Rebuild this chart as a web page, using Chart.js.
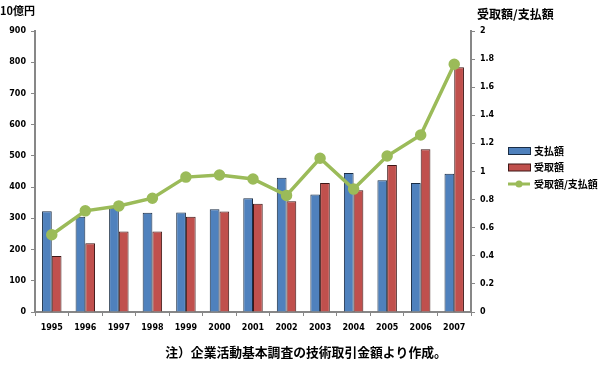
<!DOCTYPE html>
<html><head><meta charset="utf-8">
<script src="https://cdn.jsdelivr.net/npm/chart.js@4/dist/chart.umd.min.js"></script>
<style>html,body{margin:0;padding:0;background:#fff;}#wrap{width:600px;height:365px;}</style>
</head><body><div id="wrap"><canvas id="c" width="600" height="365"></canvas></div>
<script>
const years = ['1995','1996','1997','1998','1999','2000','2001','2002','2003','2004','2005','2006','2007'];
const payments = [323,305,334,318,319,329,364,430,376,445,422,413,443];
const receipts = [179,220,258,258,305,322,347,355,413,390,471,521,784];
const ratio = [0.55,0.72,0.755,0.81,0.96,0.975,0.947,0.83,1.094,0.875,1.11,1.26,1.763];
const leftTicks = [0,100,200,300,400,500,600,700,800,900];
const rightTicks = [0,0.2,0.4,0.6,0.8,1,1.2,1.4,1.6,1.8,2];
const labelPay = '支払額', labelRec = '受取額', labelRatio = '受取額/支払額';
const leftTitle = '10億円', rightTitle = '受取額/支払額';
const note = '注）企業活動基本調査の技術取引金額より作成。';

const CJK = '"Noto Sans CJK JP", "DejaVu Sans", sans-serif';
const NUM = '"DejaVu Sans", sans-serif';
const AXIS = '#878787';
const GREEN = '#9BBB59';

const extras = {
  id: 'extras',
  afterDraw(chart) {
    const ctx = chart.ctx;
    ctx.save();
    ctx.fillStyle = '#000';
    ctx.textBaseline = 'middle';
    ctx.font = 'bold 11px ' + CJK;
    ctx.textAlign = 'left';
    ctx.fillText(leftTitle, 0, 11);
    ctx.font = 'bold 12px ' + CJK;
    ctx.fillText(rightTitle, 477, 14);
    ctx.font = 'bold 12.8px ' + CJK;
    ctx.textAlign = 'center';
    ctx.fillText(note, 306, 352);
    // legend built from the datasets
    ctx.textAlign = 'left';
    ctx.font = 'bold 10px ' + CJK;
    const ys = [151, 167.5, 184];
    chart.data.datasets.forEach((ds, i) => {
      const y = ys[i];
      const x0 = 508, x1 = 530;
      if (ds.type === 'line') {
        ctx.strokeStyle = ds.borderColor; ctx.lineWidth = 3;
        ctx.beginPath(); ctx.moveTo(x0, y); ctx.lineTo(x1, y); ctx.stroke();
        ctx.fillStyle = ds.borderColor;
        ctx.beginPath(); ctx.arc((x0 + x1) / 2, y, 3.5, 0, Math.PI * 2); ctx.fill();
      } else {
        ctx.fillStyle = ds.backgroundColor;
        ctx.fillRect(x0, y - 3.5, 22, 7);
        ctx.strokeStyle = ds.borderColor; ctx.lineWidth = 1;
        ctx.strokeRect(x0 + 0.5, y - 3.5, 22, 7);
      }
      ctx.fillStyle = '#000';
      ctx.fillText(ds.label, 534, y);
    });
    ctx.restore();
  }
};

new Chart(document.getElementById('c'), {
  type: 'bar',
  data: {
    labels: years,
    datasets: [
      { type: 'bar', label: labelPay, data: payments, yAxisID: 'y', order: 2,
        backgroundColor: '#4F81BD', borderColor: '#1a2d45', borderWidth: 1,
        categoryPercentage: 0.58, barPercentage: 1.0 },
      { type: 'bar', label: labelRec, data: receipts, yAxisID: 'y', order: 2,
        backgroundColor: '#C0504D', borderColor: '#3e1716', borderWidth: 1,
        categoryPercentage: 0.58, barPercentage: 1.0 },
      { type: 'line', label: labelRatio, data: ratio, yAxisID: 'y1', order: 0,
        borderColor: GREEN, backgroundColor: GREEN, borderWidth: 3.5,
        pointRadius: 4, pointBackgroundColor: GREEN, pointBorderColor: GREEN,
        tension: 0 }
    ]
  },
  options: {
    responsive: false,
    animation: false,
    devicePixelRatio: 1,
    layout: { padding: { top: 31, right: 92, bottom: 30, left: 0 } },
    plugins: {
      tooltip: { enabled: false },
      legend: { display: false }
    },
    scales: {
      x: {
        offset: true,
        grid: { display: true, drawOnChartArea: false, drawTicks: true, tickLength: 4, color: AXIS, offset: true },
        border: { display: true, color: AXIS, width: 2 },
        ticks: { color: '#000', font: { family: NUM, size: 8, weight: 'bold' }, padding: 7, maxRotation: 0, autoSkip: false },
        afterFit(s) { s.height = 365 - 30 - 312; }
      },
      y: {
        position: 'left', min: 0, max: 900,
        afterBuildTicks(s) { s.ticks = leftTicks.map(v => ({ value: v })); },
        grid: { display: true, drawOnChartArea: false, drawTicks: true, tickLength: 4, color: AXIS },
        border: { display: true, color: AXIS, width: 2 },
        ticks: { color: '#000', font: { family: NUM, size: 8, weight: 'bold' }, padding: 5 },
        afterFit(s) { s.width = 35; }
      },
      y1: {
        position: 'right', min: 0, max: 2,
        afterBuildTicks(s) { s.ticks = rightTicks.map(v => ({ value: v })); },
        grid: { display: true, drawOnChartArea: false, drawTicks: true, tickLength: 4, color: AXIS },
        border: { display: true, color: AXIS, width: 2 },
        ticks: { color: '#000', font: { family: NUM, size: 8, weight: 'bold' }, padding: 5,
          callback: v => String(Number(v.toFixed(1))) },
        afterFit(s) { s.width = 37; }
      }
    }
  },
  plugins: [extras]
});
</script></body></html>
